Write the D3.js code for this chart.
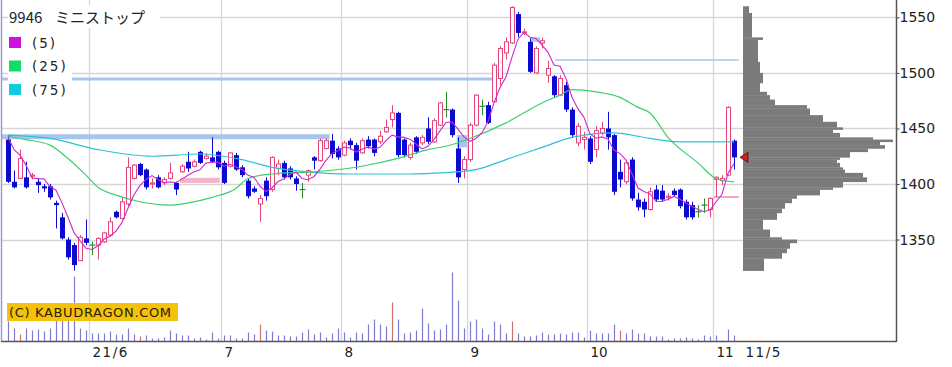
<!DOCTYPE html>
<html><head><meta charset="utf-8">
<script src="https://cdn.jsdelivr.net/npm/d3@7"></script>
<style>html,body{margin:0;padding:0;background:#fff;}svg{display:block;}</style>
</head><body><svg id="c" width="952" height="367"></svg>
<script>
// ---- data ----
const openP =[1440,1402,1405,1406,1407,1402,1398,1398,1383,1370,1350,1345,1331,1351,1345,1345,1348,1354,1375,1369,
 1382,1405,1418,1413,1400,1406,1401,1405,1401,1411,1420,1416,1429,1423,1424,1429,1419,1416,1426,1415,
 1403,1396,1382,1403,1395,1414,1419,1414,1405,1395,1408,1424,1421,1432,1439,1432,1426,1439,1435,1428,
 1440,1440,1438,1447,1458,1464,1440,1424,1442,1437,1450,1438,1453,1467,1467,1432,1413,1422,1453,1470,
 1471,1474,1495,1518,1527,1553,1536,1528,1500,1527,1498,1497,1480,1489,1467,1437,1440,1441,1431,1446,
 1450,1444,1411,1402,1422,1386,1384,1377,1395,1394,1388,1394,1395,1384,1381,1375,1381,1377,1404,1403,
 1408,1439];
const highP =[1444,1412,1431,1420,1410,1405,1400,1400,1385,1374,1352,1347,1354,1368,1348,1352,1357,1370,1376,1388,
 1424,1418,1419,1414,1405,1408,1406,1419,1402,1418,1429,1422,1430,1428,1442,1430,1421,1429,1428,1417,
 1405,1398,1390,1406,1425,1422,1421,1416,1407,1401,1413,1425,1441,1441,1445,1434,1439,1441,1437,1441,
 1443,1441,1448,1458,1471,1465,1441,1437,1443,1444,1460,1459,1474,1483,1468,1442,1425,1455,1481,1476,
 1474,1509,1524,1532,1560,1555,1540,1531,1524,1532,1511,1498,1498,1492,1469,1455,1447,1443,1452,1456,
 1465,1445,1422,1421,1424,1392,1387,1397,1399,1399,1392,1396,1396,1386,1384,1381,1387,1388,1407,1408,
 1470,1440];
const lowP  =[1401,1396,1405,1396,1404,1392,1393,1386,1360,1350,1332,1322,1331,1345,1336,1332,1347,1353,1369,1368,
 1380,1404,1407,1395,1396,1396,1399,1404,1390,1410,1411,1415,1418,1422,1419,1413,1400,1415,1412,1406,
 1387,1392,1366,1385,1393,1408,1404,1404,1394,1387,1402,1413,1420,1431,1423,1422,1425,1431,1413,1427,
 1432,1425,1436,1446,1451,1424,1424,1422,1427,1435,1436,1437,1452,1460,1442,1401,1405,1420,1452,1462,
 1454,1473,1489,1512,1526,1532,1534,1500,1499,1522,1491,1478,1479,1465,1442,1434,1431,1418,1424,1444,
 1431,1390,1397,1400,1385,1376,1370,1376,1384,1384,1385,1389,1378,1368,1368,1370,1374,1370,1388,1399,
 1407,1413];
const closeP=[1402,1397,1423,1397,1408,1399,1396,1388,1381,1351,1334,1327,1352,1347,1345,1351,1356,1366,1370,1384,
 1415,1417,1408,1397,1401,1397,1404,1410,1395,1416,1414,1420,1419,1425,1420,1415,1401,1428,1413,1408,
 1389,1393,1387,1389,1424,1418,1406,1406,1400,1395,1412,1421,1439,1439,1427,1424,1437,1435,1421,1439,
 1434,1428,1443,1451,1464,1426,1426,1435,1429,1442,1438,1457,1473,1467,1444,1406,1422,1453,1480,1470,
 1455,1507,1522,1528,1559,1536,1537,1501,1522,1529,1504,1480,1495,1467,1444,1452,1442,1420,1448,1450,
 1442,1393,1404,1419,1387,1379,1377,1393,1386,1386,1389,1390,1380,1370,1370,1375,1381,1387,1406,1405,
 1469,1424];
const volume=[20,13,7,13,11,12,10,13,21,21,21,65,13,11,8,8,8,10,7,7,
 13,7,5,6,3,3,4,11,8,6,6,3,4,2,9,3,6,6,3,3,
 9,7,17,11,10,6,6,5,5,9,12,7,9,4,8,13,9,4,9,8,
 17,22,17,15,39,22,8,9,11,33,18,11,12,17,69,41,13,20,22,13,
 7,20,17,8,20,8,5,5,6,9,7,7,8,7,9,9,4,11,8,8,
 8,17,11,8,12,8,8,5,5,5,2,3,3,4,3,2,6,5,6,1,
 12,6];
const volRed=[2,22,42,64,84,102];
const ma5Head=[1442,1431,1426,1417];
const ma25Idx=[0,3,7,10,13,15,18,22,27,30,34,38,40,44,51,59,65,70,73,77,83,89,92,94,98,102,105,107,110,115,118,121];
const ma25Val=[1443,1440,1435,1423,1408,1397,1390,1384,1381,1383,1388,1396,1405,1409,1411,1416,1423,1431,1434,1441,1455,1473,1480,1485,1483,1478,1469,1464,1442,1419,1405,1402];
const ma75Idx=[0,7,15,24,32,39,44,50,57,67,72,78,83,89,94,101,107,112,121];
const ma75Val=[1444,1441,1431,1425,1427,1422,1415,1411,1409,1409,1410,1413,1422,1433,1442,1446,1441,1438,1438];
const profLo=[1554,1532,1530,1510,1500,1491,1483,1480,1476,1471,1468,1462,1456,1451,1449,1446,1442,1440,1438,1435,1432,1429,1424,1422,1419,1415,1413,1410,1406,1402,1397,1395,1390,1387,1383,1378,1374,1368,1359,1352,1350,1347,1342,1338,1333,1322];
const profHi=[1560,1554,1532,1530,1510,1500,1491,1483,1480,1476,1471,1468,1462,1456,1451,1449,1446,1442,1440,1438,1435,1432,1429,1424,1422,1419,1415,1413,1410,1406,1402,1397,1395,1390,1387,1383,1378,1374,1368,1359,1352,1350,1347,1342,1338,1333];
const profVol=[6,9,20,15,17,20,17,24,27,32,64,67,80,94,100,90,97,130,150,137,142,125,107,97,94,97,100,102,120,124,100,90,77,54,49,42,39,34,20,27,39,54,47,44,39,21];
const monthIdx=[14,36,56,77,97,118];
const monthLbl=["21/6","7","8","9","10","11"];
const lastLbl="11/5";
const yTicks=[1350,1400,1450,1500,1550];
const code="9946", nameJa="ミニストップ";
const legendLbl=["(5)","(25)","(75)"];
// horizontal price levels: [startIdx, endIdx, price, width]
const levelLines=[[-1,53.6,1442.5,5],[-1.1,80.8,1494.5,3],[91.2,121.8,1511.6,1.5]];
const levelPatches=[[74.8,76.5,1433,1444],[87,88.7,1528,1532]];
const pinkBand=[28.7,35.3,1401,1405.5];
const pinkLine=[117.6,121.8,1388.3];

// ---- scales ----
const svg=d3.select("#c");
const N=closeP.length;
const x=d3.scaleLinear().domain([0,N-1]).range([8,734]);
const y=d3.scaleLinear().domain([1400,1550]).range([184,17.4]);
const yv=d3.scaleLinear().domain([0,100]).range([341.5,241.5]);
const xp=d3.scaleLinear().domain([0,150]).range([743,893]);
const AX=896.5, BY=341.5;

// grid
const g=svg.append("g");
g.selectAll("line.h").data(yTicks).enter().append("line")
 .attr("x1",2).attr("x2",AX).attr("y1",d=>Math.round(y(d))+0.5).attr("y2",d=>Math.round(y(d))+0.5)
 .attr("stroke","#d6d6d6").attr("stroke-width",1.3);
g.selectAll("line.v").data(monthIdx).enter().append("line")
 .attr("x1",d=>Math.round(x(d))-3+0.5).attr("x2",d=>Math.round(x(d))-3+0.5).attr("y1",0).attr("y2",BY)
 .attr("stroke","#d6d6d6").attr("stroke-width",1.3);

// level lines & patches
g.selectAll("line.lv").data(levelLines).enter().append("line")
 .attr("x1",d=>x(d[0])).attr("x2",d=>x(d[1])).attr("y1",d=>y(d[2])).attr("y2",d=>y(d[2]))
 .attr("stroke","#a9c5ee").attr("stroke-width",d=>d[3]);
g.selectAll("rect.lp").data(levelPatches).enter().append("rect")
 .attr("x",d=>x(d[0])).attr("width",d=>x(d[1])-x(d[0])).attr("y",d=>y(d[3])).attr("height",d=>y(d[2])-y(d[3]))
 .attr("fill","#a9c5ee");
g.append("rect").attr("x",x(pinkBand[0])).attr("width",x(pinkBand[1])-x(pinkBand[0]))
 .attr("y",y(pinkBand[3])).attr("height",y(pinkBand[2])-y(pinkBand[3])).attr("fill","#f4b4cc");
g.append("line").attr("x1",x(pinkLine[0])).attr("x2",x(pinkLine[1])).attr("y1",y(pinkLine[2])).attr("y2",y(pinkLine[2]))
 .attr("stroke","#f2a6c2").attr("stroke-width",2);

// volume profile
g.selectAll("rect.pf").data(profVol).enter().append("rect")
 .attr("x",xp(0)).attr("width",d=>xp(d)-xp(0))
 .attr("y",(d,i)=>y(profHi[i])).attr("height",(d,i)=>y(profLo[i])-y(profHi[i])+0.3)
 .attr("fill","#7b7b7b");

// volume bars
g.selectAll("line.vol").data(volume).enter().append("line")
 .attr("x1",(d,i)=>Math.round(x(i))+0.5).attr("x2",(d,i)=>Math.round(x(i))+0.5)
 .attr("y1",BY).attr("y2",d=>yv(d))
 .attr("stroke",(d,i)=>volRed.includes(i)?"#d27070":"#7c7cd0").attr("stroke-width",1.2);

// candles
const PINK="#e6457a", BLUE="#0a0ad0", GREEN="#2c8c2c";
const cg=g.append("g");
closeP.forEach((c,i)=>{
  const o=openP[i], cx=Math.round(x(i))+0.5;
  const col=c>o?PINK:(c<o?BLUE:GREEN);
  cg.append("line").attr("x1",cx).attr("x2",cx).attr("y1",y(highP[i])).attr("y2",y(lowP[i]))
    .attr("stroke",col).attr("stroke-width",1);
  if(c>o){
    const t=y(c), b=y(o);
    cg.append("rect").attr("x",cx-2).attr("width",4).attr("y",t).attr("height",Math.max(1,b-t))
      .attr("fill","#fff").attr("stroke",PINK).attr("stroke-width",1);
  } else if(c<o){
    const t=y(o), b=y(c);
    cg.append("rect").attr("x",cx-2.5).attr("width",5).attr("y",t).attr("height",Math.max(1.5,b-t))
      .attr("fill",BLUE);
  } else {
    cg.append("line").attr("x1",cx-3).attr("x2",cx+3).attr("y1",y(c)).attr("y2",y(c))
      .attr("stroke",GREEN).attr("stroke-width",1.2);
  }
});

// moving averages
const ma5=closeP.map((c,i)=>i<4?ma5Head[i]:d3.mean(closeP.slice(i-4,i+1)));
const line=d3.line().x(d=>x(d[0])).y(d=>y(d[1]));
const smooth=d3.line().x(d=>x(d[0])).y(d=>y(d[1])).curve(d3.curveMonotoneX);
g.append("path").attr("d",smooth(ma75Idx.map((d,i)=>[d,ma75Val[i]]))).attr("fill","none").attr("stroke","#2cc3d6").attr("stroke-width",1.2);
g.append("path").attr("d",smooth(ma25Idx.map((d,i)=>[d,ma25Val[i]]))).attr("fill","none").attr("stroke","#3ccf6e").attr("stroke-width",1.2);
g.append("path").attr("d",line(ma5.map((d,i)=>[i,d]))).attr("fill","none").attr("stroke","#cc2ccc").attr("stroke-width",1.1);

// last price marker
const ly=y(closeP[N-1]);
g.append("path").attr("d",`M${x(N-1)+6},${ly} L${x(N-1)+14},${ly-5} L${x(N-1)+14},${ly+5} Z`)
 .attr("fill","#e01818").attr("stroke","#401010").attr("stroke-width",0.8);

// legend
g.append("rect").attr("x",8).attr("y",5).attr("width",152).attr("height",23).attr("fill","#fff");
g.append("rect").attr("x",8).attr("y",30).attr("width",64).attr("height",68).attr("fill","#fff");
const tt=g.append("text").attr("y",23).attr("font-family","'Noto Sans CJK JP','Noto Sans',sans-serif").attr("font-size",15).attr("fill","#222");
tt.append("tspan").attr("x",9).text(code);
tt.append("tspan").attr("x",55).text(nameJa);
const legCol=["#cc11dd","#11dd66","#11ccdd"];
legendLbl.forEach((l,k)=>{
  const yy=37+k*23.5;
  g.append("rect").attr("x",9).attr("y",yy).attr("width",12).attr("height",11).attr("fill",legCol[k]);
  g.append("text").attr("x",32).attr("y",yy+10.5).attr("font-family","'DejaVu Sans',sans-serif").attr("font-size",13.5)
   .attr("letter-spacing",2).attr("fill","#222").text(l);
});

// watermark
g.append("rect").attr("x",7).attr("y",303).attr("width",171).attr("height",18).attr("fill","#f4c20c");
g.append("text").attr("x",9).attr("y",317).attr("font-family","'DejaVu Sans',sans-serif").attr("font-size",13)
 .attr("textLength",162).attr("lengthAdjust","spacing").attr("fill","#2a2000").text("(C) KABUDRAGON.COM");

// axes
g.append("line").attr("x1",1.5).attr("x2",1.5).attr("y1",0).attr("y2",BY).attr("stroke","#9a9ad8").attr("stroke-width",1.5);
const ya=g.append("g").attr("transform",`translate(${AX},0)`)
 .call(d3.axisRight(y).tickValues(yTicks).tickFormat(d3.format("d")).tickSize(3).tickPadding(0).tickSizeOuter(0));
ya.select(".domain").remove();
ya.selectAll("line").attr("stroke","#444");
ya.selectAll("text").attr("font-family","'DejaVu Sans',sans-serif").attr("font-size",14).attr("fill","#222");
g.append("line").attr("x1",AX).attr("x2",AX).attr("y1",0).attr("y2",BY+0.5).attr("stroke","#555").attr("stroke-width",1.5);
g.append("line").attr("x1",1).attr("x2",AX).attr("y1",BY).attr("y2",BY).attr("stroke","#555").attr("stroke-width",1.5);

const xa=g.append("g").attr("transform",`translate(0,${BY})`)
 .call(d3.axisBottom(x).tickValues(monthIdx.concat([N-1])).tickSize(0).tickPadding(0)
   .tickFormat((d,k)=>k<monthIdx.length?monthLbl[k]:lastLbl));
xa.select(".domain").remove();
xa.selectAll("text").attr("text-anchor","start").attr("dy",0).attr("y",15.5)
 .attr("dx",(d,k)=>k<monthIdx.length?0:11)
 .attr("font-family","'DejaVu Sans',sans-serif").attr("font-size",13.5).attr("letter-spacing",(d,k)=>(k===0||k===monthIdx.length)?1.5:0).attr("fill","#222");
</script></body></html>
